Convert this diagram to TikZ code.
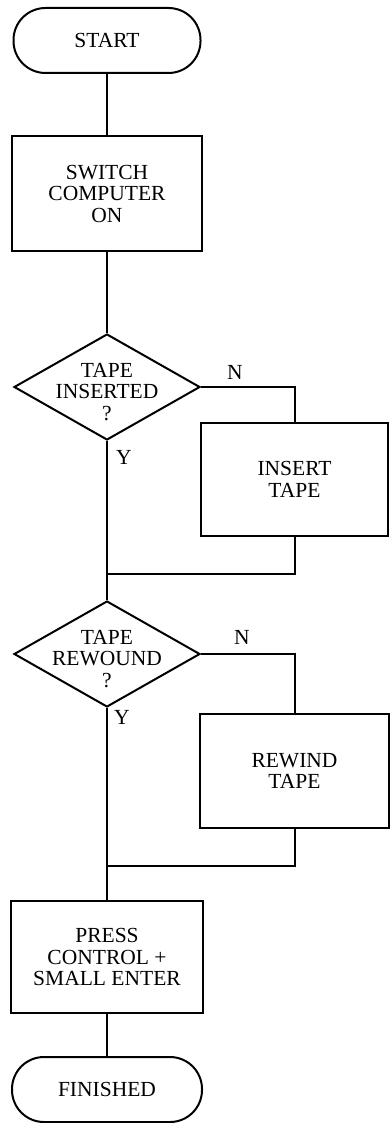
\documentclass[tikz,border=0pt]{standalone}
\usepackage{fontspec}
\setmainfont{Liberation Serif}
\usetikzlibrary{shapes.geometric}
\begin{document}
\begin{tikzpicture}[x=1pt,y=-1pt, line width=2pt,
  every node/.style={font=\fontsize{21.5}{21.5}\selectfont, align=center},
  term/.style={draw, rectangle, rounded corners=32pt, minimum width=187pt, minimum height=65pt, inner sep=0pt},
  procbox/.style={draw, rectangle, minimum width=#1, minimum height=114pt, inner sep=0pt},
  dia/.style={draw, diamond, minimum width=186pt, minimum height=106pt, inner sep=0pt},
  lbl/.style={inner sep=0pt}]
\useasboundingbox (0,0) rectangle (389,1123);
\node[term] (start) at (107,40.5) {START};
\node[procbox=190pt, minimum height=115pt] (switch) at (107,193.5) {SWITCH\\COMPUTER\\ON};
\node[dia] (d1) at (107,387) {};
\node[lbl] (t1) at (107,392) {TAPE\\INSERTED\\?};
\node[procbox=187pt, minimum height=113pt] (insert) at (294.5,479.5) {INSERT\\TAPE};
\coordinate (j1) at (107,574);
\node[dia] (d2) at (107,654) {};
\node[lbl] (t2) at (107,659) {TAPE\\REWOUND\\?};
\node[procbox=189pt] (rewind) at (294.5,771) {REWIND\\TAPE};
\coordinate (j2) at (107,866);
\node[procbox=192pt, minimum height=112pt] (press) at (107,957) {PRESS\\CONTROL +\\SMALL ENTER};
\node[term, minimum width=190pt] (fin) at (107,1089.5) {FINISHED};
\node[lbl] (n1) at (235,372) {N};
\node[lbl] (y1) at (124,457) {Y};
\node[lbl] (n2) at (242,637) {N};
\node[lbl] (y2) at (122,717) {Y};
\draw (start) -- (switch);
\draw (switch) -- (d1);
\draw (d1.east) -| (insert.north);
\draw (insert.south) |- (j1);
\draw (d1.south) -- (j1) -- (d2.north);
\draw (d2.east) -| (rewind.north);
\draw (rewind.south) |- (j2);
\draw (d2.south) -- (j2) -- (press);
\draw (press) -- (fin);
\end{tikzpicture}
\end{document}
